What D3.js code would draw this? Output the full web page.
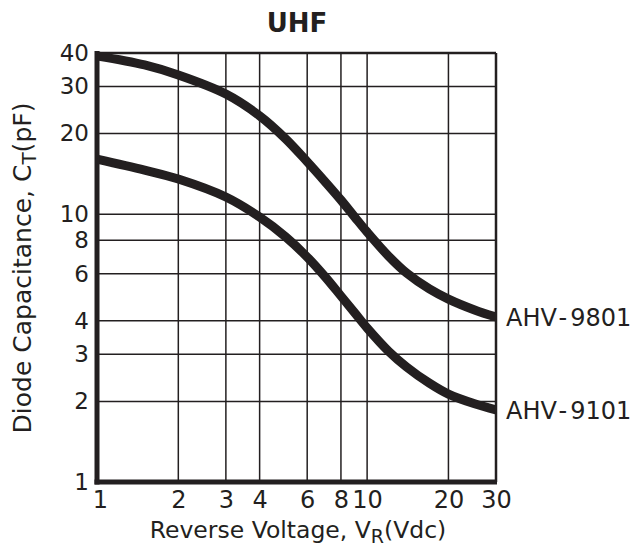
<!DOCTYPE html>
<html><head><meta charset="utf-8">
<script src="https://cdn.jsdelivr.net/npm/d3@7"></script>
<style>body{margin:0;background:#fff}svg{display:block}text{font-family:"DejaVu Sans",Arial,sans-serif;fill:#231f20}</style>
</head><body><svg id="c" width="641" height="550"></svg>
<script>
const voltage = [1, 1.5, 2, 3, 4, 5, 6, 7, 8, 9, 10, 12, 14, 17, 20, 25, 30];
const ahv9801 = [39.0, 36.1, 33.1, 28.1, 23.3, 19.1, 15.7, 13.2, 11.3, 9.76, 8.58, 6.98, 6.03, 5.26, 4.82, 4.39, 4.13];
const ahv9101 = [16.07, 14.62, 13.53, 11.59, 9.76, 8.22, 6.92, 5.83, 4.95, 4.28, 3.76, 3.08, 2.69, 2.34, 2.13, 1.96, 1.86];
const seriesNames = ["AHV-9801", "AHV-9101"];
const xTicks = [1, 2, 3, 4, 6, 8, 10, 20, 30];
const yTicks = [1, 2, 3, 4, 6, 8, 10, 20, 30, 40];

const svg = d3.select("#c");
const L = 97, R = 496, T = 53, B = 482;
const x = d3.scaleLog().domain([1, 30]).range([L, R]);
const y = d3.scaleLog().domain([1, 40]).range([B, T]);
const ink = "#231f20";

// grid
const g = svg.append("g");
g.selectAll(".vx").data(xTicks.slice(1, -1)).join("line")
  .attr("x1", d => x(d)).attr("x2", d => x(d)).attr("y1", T).attr("y2", B)
  .attr("stroke", ink).attr("stroke-width", 1.5);
g.selectAll(".hy").data(yTicks.slice(1, -1)).join("line")
  .attr("y1", d => y(d)).attr("y2", d => y(d)).attr("x1", L).attr("x2", R)
  .attr("stroke", ink).attr("stroke-width", 1.5);
// frame
g.append("line").attr("x1", L).attr("x2", R).attr("y1", T).attr("y2", T).attr("stroke", ink).attr("stroke-width", 2.5);
g.append("line").attr("x1", R).attr("x2", R).attr("y1", T).attr("y2", B).attr("stroke", ink).attr("stroke-width", 2.5);
g.append("line").attr("x1", L).attr("x2", L).attr("y1", T - 2).attr("y2", B + 2.5).attr("stroke", ink).attr("stroke-width", 5);
g.append("line").attr("x1", L - 2.5).attr("x2", R + 1).attr("y1", B).attr("y2", B).attr("stroke", ink).attr("stroke-width", 5);

// curves
const line = d3.line().x(d => x(d[0])).y(d => y(d[1])).curve(d3.curveCatmullRom.alpha(0.5));
const series = [ahv9801, ahv9101];
svg.append("defs").append("clipPath").attr("id", "cl").append("rect")
  .attr("x", L).attr("y", T - 5).attr("width", R - L).attr("height", B - T + 5);
series.forEach((s, i) => {
  svg.append("path").datum(voltage.map((v, j) => [v, s[j]]))
    .attr("d", line).attr("fill", "none").attr("stroke", ink)
    .attr("stroke-width", 9).attr("clip-path", "url(#cl)");
  const parts = seriesNames[i].split("-");
  const t = svg.append("text").attr("x", R + 10).attr("y", y(s[s.length - 1]) + 9)
    .attr("font-size", 24);
  t.append("tspan").text(parts[0]);
  t.append("tspan").attr("dx", 3).text("-");
  t.append("tspan").attr("dx", 3).text(parts[1]);
});

// axes labels
const xAxis = d3.axisBottom(x).tickValues(xTicks).tickFormat(d3.format("d")).tickSize(0).tickPadding(9);
const ax = svg.append("g").attr("transform", `translate(0,${B})`).call(xAxis);
ax.select(".domain").remove();
ax.selectAll("text").attr("font-size", 24).attr("fill", ink).style("font-family", "DejaVu Sans, Arial, sans-serif");
ax.selectAll(".tick").filter(d => d === 1).select("text").attr("dx", 3);
const yAxis = d3.axisLeft(y).tickValues(yTicks).tickFormat(d3.format("d")).tickSize(0).tickPadding(8);
const ay = svg.append("g").attr("transform", `translate(${L},0)`).call(yAxis);
ay.select(".domain").remove();
ay.selectAll("text").attr("font-size", 23).attr("fill", ink).style("font-family", "DejaVu Sans, Arial, sans-serif");

// title
svg.append("text").attr("x", 297).attr("y", 32).attr("text-anchor", "middle")
  .attr("font-size", 26).attr("font-weight", "bold").text("UHF");

// x title
const xt = svg.append("text").attr("x", 298).attr("y", 537.5).attr("text-anchor", "middle").attr("font-size", 23.5);
xt.append("tspan").text("Reverse Voltage, V");
xt.append("tspan").attr("font-size", 19).attr("dy", 5).text("R");
xt.append("tspan").attr("dy", -5).text("(Vdc)");

// y title
const yt = svg.append("text").attr("transform", "translate(31,268) rotate(-90)").attr("text-anchor", "middle").attr("font-size", 25);
yt.append("tspan").text("Diode Capacitance, C");
yt.append("tspan").attr("font-size", 20).attr("dy", 5).text("T");
yt.append("tspan").attr("dy", -5).text("(pF)");
</script></body></html>
